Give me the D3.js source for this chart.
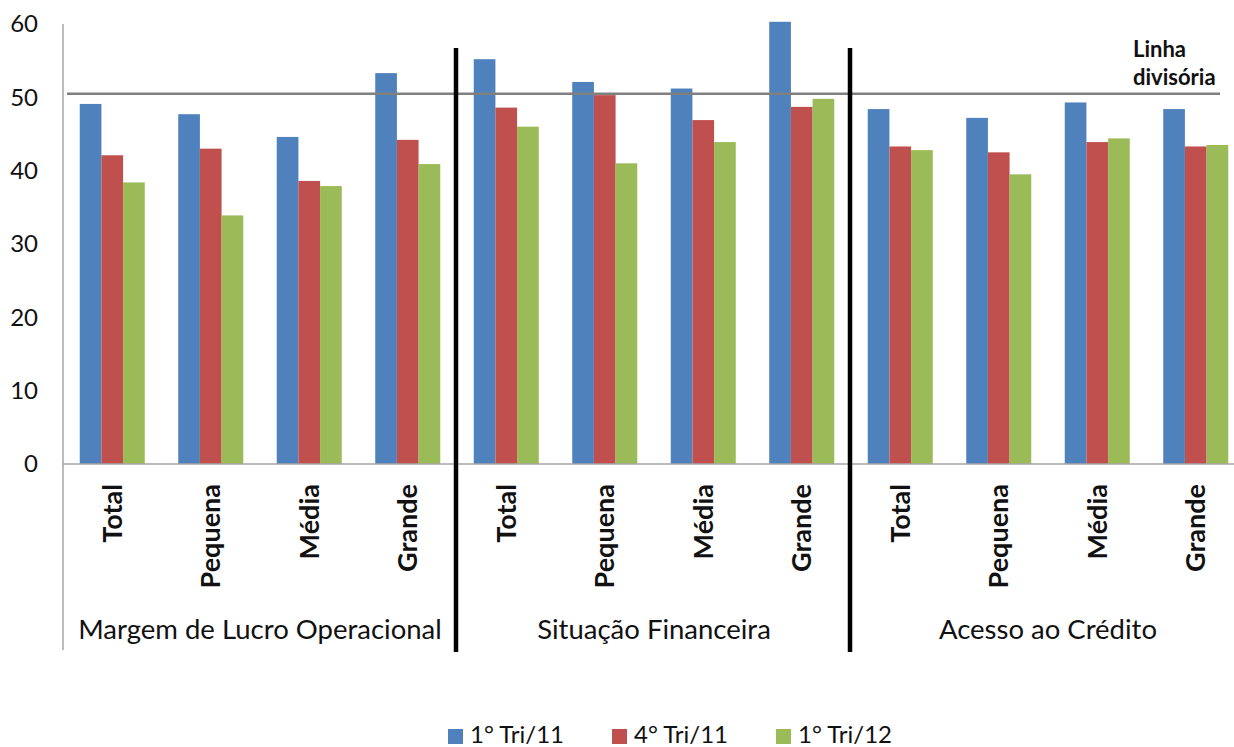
<!DOCTYPE html>
<html><head><meta charset="utf-8">
<script src="https://cdn.jsdelivr.net/npm/d3@7"></script>
<style>body{margin:0;background:#fff}svg{display:block}text{font-family:Lato,"Open Sans",sans-serif;fill:#111}</style>
</head><body><svg id="c" width="1234" height="747"></svg>
<script>
const groups = ["Margem de Lucro Operacional", "Situação Financeira", "Acesso ao Crédito"];
const sizes = ["Total", "Pequena", "Média", "Grande"];
const seriesNames = ["1° Tri/11", "4° Tri/11", "1° Tri/12"];
const tri1_11 = [49.1, 47.7, 44.6, 53.3, 55.2, 52.1, 51.2, 60.3, 48.4, 47.2, 49.3, 48.4];
const tri4_11 = [42.1, 43.0, 38.6, 44.2, 48.6, 50.3, 46.9, 48.7, 43.3, 42.5, 43.9, 43.3];
const tri1_12 = [38.4, 33.9, 37.9, 40.9, 46.0, 41.0, 43.9, 49.8, 42.8, 39.5, 44.4, 43.5];
const yTicks = [0, 10, 20, 30, 40, 50, 60];
const dividerValue = 50.5;
const dividerLabel = ["Linha", "divisória"];
const colors = ["#4F81BD", "#C0504D", "#9BBB59"];

const series = [tri1_11, tri4_11, tri1_12];
const cats = d3.range(groups.length * sizes.length);
const svg = d3.select("#c");
const x = d3.scaleBand().domain(cats).range([63, 1245]).paddingInner(0.34).paddingOuter(0.17);
const xs = d3.scaleBand().domain(d3.range(series.length)).range([0, x.bandwidth()]);
const y = d3.scaleLinear().domain([0, 60]).range([464, 24]);

// y axis labels
svg.append("g").selectAll("text").data(yTicks).join("text")
  .attr("x", 38).attr("y", d => y(d)).attr("dy", "0.35em").attr("text-anchor", "end")
  .style("font-size", "24px").text(d => d);

// bars
series.forEach((s, si) => {
  svg.append("g").selectAll("rect").data(s).join("rect")
    .attr("x", (d, i) => x(i) + xs(si)).attr("width", xs.bandwidth())
    .attr("y", d => y(d)).attr("height", d => y(0) - y(d))
    .attr("fill", colors[si]);
});

// axes lines
svg.append("line").attr("x1", 63).attr("x2", 1234).attr("y1", y(0)).attr("y2", y(0))
  .attr("stroke", "#a6a6a6").attr("stroke-width", 1.5);
svg.append("line").attr("x1", 63).attr("x2", 63).attr("y1", y(60)).attr("y2", 650)
  .attr("stroke", "#a6a6a6").attr("stroke-width", 1.5);

// divider line
svg.append("line").attr("x1", 67).attr("x2", 1220).attr("y1", y(dividerValue)).attr("y2", y(dividerValue))
  .attr("stroke", "#808080").attr("stroke-width", 2.5);
svg.append("g").selectAll("text").data(dividerLabel).join("text")
  .attr("x", 1133).attr("y", (d, i) => 57 + i * 28)
  .style("font-size", "22px").style("font-weight", "bold").text(d => d);

// category labels
svg.append("g").selectAll("text").data(cats).join("text")
  .attr("transform", i => `translate(${x(i) + x.bandwidth() / 2},484) rotate(-90)`)
  .attr("text-anchor", "end").attr("dy", "0.36em")
  .style("font-size", "27px").style("font-weight", "bold")
  .text(i => sizes[i % sizes.length]);

// group labels
svg.append("g").selectAll("text").data(groups).join("text")
  .attr("x", (d, gi) => (x(gi * 4) - x.step() * x.paddingOuter() + x(gi * 4 + 3) + x.bandwidth() + x.step() * x.paddingOuter()) / 2)
  .attr("y", 639).attr("text-anchor", "middle")
  .style("font-size", "27.5px").text(d => d);

// group separators
[1, 2].forEach(gi => {
  const xx = (x(gi * 4 - 1) + x.bandwidth() + x(gi * 4)) / 2 - 1;
  svg.append("line").attr("x1", xx).attr("x2", xx).attr("y1", 48).attr("y2", 652)
    .attr("stroke", "#000").attr("stroke-width", 4.5);
});

// legend
const legX = [448, 612, 776];
const leg = svg.append("g").selectAll("g").data(seriesNames).join("g")
  .attr("transform", (d, i) => `translate(${legX[i]},0)`);
leg.append("rect").attr("x", 0).attr("y", 729).attr("width", 15).attr("height", 15).attr("fill", (d, i) => colors[i]);
leg.append("text").attr("x", 22).attr("y", 743).style("font-size", "24px").text(d => d);
</script></body></html>
